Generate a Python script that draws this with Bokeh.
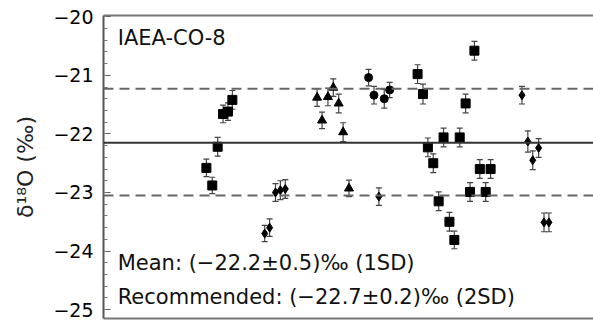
from bokeh.plotting import figure
from bokeh.models import (Span, Label, Whisker, ColumnDataSource, FixedTicker,
                          LinearAxis, Range1d, TeeHead)
from bokeh.embed import file_html
from bokeh.resources import INLINE

# ---- data (measurement sequence vs delta18O, permil) ----
sq_x = [21.0, 22.2, 23.3, 24.4, 25.4, 26.3,
        64.1, 65.2, 66.2, 67.3, 68.4, 69.4, 70.6, 71.6, 72.7, 73.9, 74.8, 75.7, 76.8, 78.0, 79.0]
sq_y = [-22.58, -22.88, -22.22, -21.66, -21.62, -21.42,
        -20.98, -21.32, -22.23, -22.50, -23.15, -22.06, -23.50, -23.81, -22.06, -21.48, -22.99,
        -20.58, -22.60, -22.99, -22.60]
sq_err = [0.15, 0.14, 0.16, 0.15, 0.15, 0.16,
          0.16, 0.17, 0.16, 0.16, 0.16, 0.16, 0.16, 0.15, 0.16, 0.16, 0.16, 0.16, 0.16, 0.16, 0.16]

tri_x = [43.6, 44.6, 45.8, 46.9, 48.0, 48.9, 50.1]
tri_y = [-21.38, -21.77, -21.37, -21.21, -21.48, -21.97, -22.93]
tri_err = [0.15, 0.14, 0.15, 0.15, 0.16, 0.16, 0.14]

cir_x = [54.1, 55.2, 57.3, 58.4]
cir_y = [-21.04, -21.34, -21.40, -21.25]
cir_err = [0.14, 0.15, 0.16, 0.13]

dia_x = [32.9, 33.9, 35.1, 36.1, 37.1, 56.2, 85.4, 86.6, 87.6, 88.8, 89.9, 90.9]
dia_y = [-23.70, -23.60, -23.00, -22.96, -22.94, -23.07, -21.34, -22.13, -22.45, -22.24, -23.51, -23.51]
dia_err = [0.14, 0.15, 0.15, 0.16, 0.16, 0.15, 0.15, 0.18, 0.16, 0.16, 0.16, 0.16]

mean_line = -22.15
sd_upper = -21.23
sd_lower = -23.05

y_ticks = [-25, -24, -23, -22, -21, -20]
y_tick_labels = ["\u221225", "\u221224", "\u221223", "\u221222", "\u221221", "\u221220"]

sample_name = "IAEA-CO-8"
mean_text = "Mean: (\u221222.2\u00b10.5)\u2030 (1SD)"
rec_text = "Recommended: (\u221222.7\u00b10.2)\u2030 (2SD)"
y_label = "\u03b4\u00b9\u2078O (\u2030)"

FONT = "DejaVu Sans"

p = figure(width=593, height=321, output_backend="svg", toolbar_location=None,
           x_range=Range1d(0, 100), y_range=Range1d(-25.15, -19.98),
           x_axis_location=None, y_axis_location="left",
           min_border_left=103, min_border_top=15, min_border_bottom=3, min_border_right=0)
p.outline_line_color = None
p.xgrid.visible = False
p.ygrid.visible = False
p.background_fill_color = "white"

ya = p.yaxis[0]
minor = [round(-25 + 0.2 * i, 1) for i in range(26)]
ya.ticker = FixedTicker(ticks=y_ticks, minor_ticks=minor)
ya.major_label_overrides = {t: l for t, l in zip(y_ticks, y_tick_labels)}
ya.major_label_text_font = FONT
ya.major_label_text_font_size = "19px"
ya.major_label_text_color = "black"
ya.major_label_standoff = 10
ya.major_tick_in = 7
ya.major_tick_out = 0
ya.minor_tick_in = 4
ya.minor_tick_out = 0
ya.major_tick_line_color = "#555"
ya.minor_tick_line_color = "#777"
ya.axis_line_color = "#555"
ya.axis_line_width = 2
ya.axis_label = y_label
ya.axis_label_text_font = FONT
ya.axis_label_text_font_size = "22px"
ya.axis_label_text_font_style = "normal"
ya.axis_label_text_color = "#222"
ya.axis_label_standoff = 12

for loc in ["above", "below"]:
    ax = LinearAxis(ticker=FixedTicker(ticks=[]), major_tick_out=0, major_tick_in=0,
                    minor_tick_out=0, minor_tick_in=0, major_label_text_font_size="0px",
                    major_label_standoff=0, axis_line_color="#777", axis_line_width=2)
    p.add_layout(ax, loc)

p.add_layout(Span(location=sd_upper, dimension="width", line_color="#666",
                  line_width=2, line_dash="10 6"))
p.add_layout(Span(location=sd_lower, dimension="width", line_color="#666",
                  line_width=2, line_dash="10 6"))
p.add_layout(Span(location=mean_line, dimension="width", line_color="#333",
                  line_width=2))


def series(xs, ys, errs, marker, size):
    src = ColumnDataSource(dict(x=xs, y=ys,
                                lo=[a - b for a, b in zip(ys, errs)],
                                hi=[a + b for a, b in zip(ys, errs)]))
    w = Whisker(source=src, base="x", lower="lo", upper="hi", dimension="height",
                line_color="#444", line_width=1.2,
                upper_head=TeeHead(size=6, line_color="#444", line_width=1.2),
                lower_head=TeeHead(size=6, line_color="#444", line_width=1.2))
    p.add_layout(w)
    p.scatter("x", "y", source=src, marker=marker, size=size,
              fill_color="black", line_color="black")


series(sq_x, sq_y, sq_err, "square", 9)
series(tri_x, tri_y, tri_err, "triangle", 9)
series(cir_x, cir_y, cir_err, "circle", 8)
series(dia_x, dia_y, dia_err, "diamond", 9)

for txt, yy in [(sample_name, -20.37), (mean_text, -24.20), (rec_text, -24.78)]:
    p.add_layout(Label(x=2.9, y=yy, text=txt, text_font=FONT, text_font_size="21px",
                       text_color="#111", text_baseline="alphabetic"))

open("out.html", "w").write(file_html(p, INLINE))
